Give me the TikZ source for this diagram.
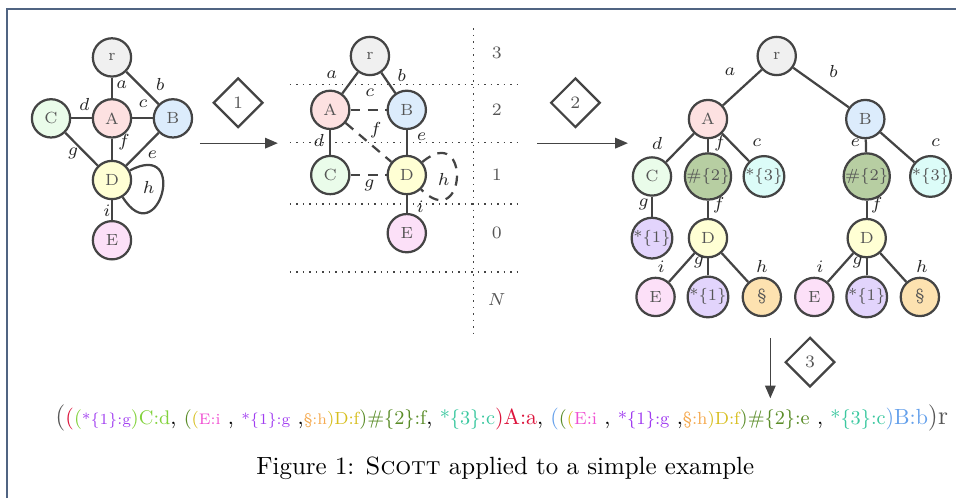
\documentclass[tikz,border=0pt]{standalone}
\usepackage{xcolor}
\usepackage{tikz}
\usetikzlibrary{shapes.geometric, arrows.meta, positioning}
\definecolor{linecolor}{RGB}{68,68,68}
\definecolor{labelcolor}{RGB}{85,85,85}
\definecolor{framecolor}{RGB}{80,100,130}
\definecolor{rootfill}{RGB}{240,240,240}
\definecolor{afill}{RGB}{253,225,225}
\definecolor{bfill}{RGB}{220,236,252}
\definecolor{cfill}{RGB}{234,252,234}
\definecolor{dfill}{RGB}{255,255,212}
\definecolor{efill}{RGB}{252,224,248}
\definecolor{hashfill}{RGB}{183,206,162}
\definecolor{threefill}{RGB}{220,252,248}
\definecolor{onefill}{RGB}{226,212,252}
\definecolor{sectfill}{RGB}{253,226,176}
\definecolor{fgray}{RGB}{85,85,85}
\definecolor{fred}{RGB}{220,20,60}
\definecolor{fgreen}{RGB}{130,210,60}
\definecolor{fpurple}{RGB}{160,60,240}
\definecolor{folive}{RGB}{90,140,40}
\definecolor{fyellow}{RGB}{215,190,30}
\definecolor{fpink}{RGB}{240,80,210}
\definecolor{forange}{RGB}{245,170,80}
\definecolor{fteal}{RGB}{60,200,160}
\definecolor{fblue}{RGB}{100,160,235}

\begin{document}
\begin{tikzpicture}[
    vtx/.style={circle, draw=linecolor, line width=0.9pt, fill=#1, minimum size=0.54cm, inner sep=0pt, font=\fontsize{6.5}{7}\selectfont, text=labelcolor},
    lbl/.style={font=\scriptsize, text=black!85},
    lnk/.style={draw=linecolor, line width=0.9pt},
    dlnk/.style={lnk, dash pattern=on 4pt off 3pt},
    stage/.style={diamond, draw=linecolor, line width=0.9pt, minimum size=0.7cm, inner sep=0pt, font=\scriptsize, text=labelcolor},
    level/.style={draw=linecolor, dotted, line width=0.6pt},
    flow/.style={draw=linecolor, line width=0.5pt, -{Triangle[length=1.8mm, width=1.5mm]}}
]
    \useasboundingbox (0,0) rectangle (13.49,7.03);
    \draw[framecolor, line width=0.7pt] (0.099,0) -- (0.099,6.902) -- (13.49,6.902);

    % Input graph
    \node[vtx=rootfill] (lr) at (1.58,6.22) {r};
    \node[vtx=afill] (lA) at (1.58,5.36) {A};
    \node[vtx=cfill] (lC) at (0.72,5.36) {C};
    \node[vtx=bfill] (lB) at (2.44,5.36) {B};
    \node[vtx=dfill] (lD) at (1.58,4.49) {D};
    \node[vtx=efill] (lE) at (1.58,3.64) {E};

    \draw[lnk] (lr) -- (lA) node[lbl] at (1.72,5.84) {$a$};
    \draw[lnk] (lr) -- (lB) node[lbl] at (2.26,5.84) {$b$};
    \draw[lnk] (lC) -- (lA) node[lbl] at (1.19,5.56) {$d$};
    \draw[lnk] (lA) -- (lB) node[lbl] at (2.02,5.56) {$c$};
    \draw[lnk] (lA) -- (lD) node[lbl] at (1.75,5.03) {$f$};
    \draw[lnk] (lC) -- (lD) node[lbl] at (1.03,4.87) {$g$};
    \draw[lnk] (lB) -- (lD) node[lbl] at (2.15,4.84) {$e$};
    \draw[lnk] (lD) to[out=28, in=-58, distance=0.95cm] (lD) node[lbl] at (2.10,4.38) {$h$};
    \draw[lnk] (lD) -- (lE) node[lbl] at (1.51,4.05) {$i$};

    % Step 1
    \coordinate (s1a) at (2.82,5.01);
    \coordinate (s1b) at (3.92,5.01);
    \draw[flow] (s1a) -- (s1b);
    \node[stage] (st1) at (3.36,5.58) {1};

    % Levels
    \draw[level] (4.09,5.84) -- (7.36,5.84);
    \draw[level] (4.09,5.02) -- (7.36,5.02);
    \draw[level] (4.09,4.15) -- (7.36,4.15);
    \draw[level] (4.09,3.19) -- (7.36,3.19);
    \draw[level] (6.68,6.63) -- (6.68,2.30);
    \node[lbl, text=labelcolor] (n3) at (7.01,6.28) {3};
    \node[lbl, text=labelcolor] (n2) at (7.01,5.48) {2};
    \node[lbl, text=labelcolor] (n1) at (7.01,4.56) {1};
    \node[lbl, text=labelcolor] (n0) at (7.01,3.74) {0};
    \node[lbl, text=labelcolor] (nN) at (7.01,2.80) {$N$};

    % Layered graph
    \node[vtx=rootfill] (mr) at (5.22,6.24) {r};
    \node[vtx=afill] (mA) at (4.66,5.48) {A};
    \node[vtx=bfill] (mB) at (5.74,5.48) {B};
    \node[vtx=cfill] (mC) at (4.66,4.56) {C};
    \node[vtx=dfill] (mD) at (5.74,4.56) {D};
    \node[vtx=efill] (mE) at (5.74,3.74) {E};

    \draw[lnk] (mr) -- (mA) node[lbl] at (4.68,5.97) {$a$};
    \draw[lnk] (mr) -- (mB) node[lbl] at (5.67,5.97) {$b$};
    \draw[dlnk] (mA) -- (mB) node[lbl] at (5.22,5.72) {$c$};
    \draw[lnk] (mA) -- (mC) node[lbl] at (4.50,5.05) {$d$};
    \draw[dlnk] (mA) -- (mD) node[lbl] at (5.30,5.19) {$f$};
    \draw[lnk] (mB) -- (mD) node[lbl] at (5.95,5.10) {$e$};
    \draw[dlnk] (mC) -- (mD) node[lbl] at (5.21,4.41) {$g$};
    \draw[dlnk] (mD) to[out=40, in=-45, distance=0.9cm] (mD) node[lbl] at (6.26,4.50) {$h$};
    \draw[lnk] (mD) -- (mE) node[lbl] at (5.93,4.11) {$i$};

    % Step 2
    \coordinate (s2a) at (7.58,5.01);
    \coordinate (s2b) at (8.86,5.01);
    \draw[flow] (s2a) -- (s2b);
    \node[stage] (st2) at (8.12,5.58) {2};

    % Tree
    \node[vtx=rootfill] (tr) at (10.96,6.24) {r};
    \node[vtx=afill] (tA) at (9.99,5.35) {A};
    \node[vtx=bfill] (tB) at (12.21,5.35) {B};
    \node[vtx=cfill] (tC) at (9.20,4.54) {C};
    \node[vtx=hashfill] (tA2) at (9.99,4.54) {\#\{2\}};
    \node[vtx=threefill] (tA3) at (10.78,4.54) {*\{3\}};
    \node[vtx=hashfill] (tB2) at (12.23,4.54) {\#\{2\}};
    \node[vtx=threefill] (tB3) at (13.13,4.54) {*\{3\}};
    \node[vtx=onefill] (tC1) at (9.20,3.67) {*\{1\}};
    \node[vtx=dfill] (tAD) at (9.99,3.67) {D};
    \node[vtx=dfill] (tBD) at (12.23,3.67) {D};
    \node[vtx=efill] (tADE) at (9.25,2.84) {E};
    \node[vtx=onefill] (tAD1) at (9.99,2.84) {*\{1\}};
    \node[vtx=sectfill] (tADS) at (10.75,2.84) {\S};
    \node[vtx=efill] (tBDE) at (11.49,2.84) {E};
    \node[vtx=onefill] (tBD1) at (12.23,2.84) {*\{1\}};
    \node[vtx=sectfill] (tBDS) at (12.98,2.84) {\S};

    \draw[lnk] (tr) -- (tA) node[lbl] at (10.30,6.02) {$a$};
    \draw[lnk] (tr) -- (tB) node[lbl] at (11.76,6.02) {$b$};
    \draw[lnk] (tA) -- (tC) node[lbl] at (9.27,5.01) {$d$};
    \draw[lnk] (tA) -- (tA2) node[lbl] at (10.16,5.01) {$f$};
    \draw[lnk] (tA) -- (tA3) node[lbl] at (10.68,5.01) {$c$};
    \draw[lnk] (tB) -- (tB2) node[lbl] at (12.07,5.01) {$e$};
    \draw[lnk] (tB) -- (tB3) node[lbl] at (13.20,5.01) {$c$};
    \draw[lnk] (tC) -- (tC1) node[lbl] at (9.08,4.14) {$g$};
    \draw[lnk] (tA2) -- (tAD) node[lbl] at (10.14,4.14) {$f$};
    \draw[lnk] (tB2) -- (tBD) node[lbl] at (12.37,4.14) {$f$};
    \draw[lnk] (tAD) -- (tADE) node[lbl] at (9.33,3.27) {$i$};
    \draw[lnk] (tAD) -- (tAD1) node[lbl] at (9.86,3.33) {$g$};
    \draw[lnk] (tAD) -- (tADS) node[lbl] at (10.75,3.27) {$h$};
    \draw[lnk] (tBD) -- (tBDE) node[lbl] at (11.57,3.27) {$i$};
    \draw[lnk] (tBD) -- (tBD1) node[lbl] at (12.10,3.33) {$g$};
    \draw[lnk] (tBD) -- (tBDS) node[lbl] at (13.01,3.27) {$h$};

    % Step 3
    \coordinate (s3a) at (10.87,2.26);
    \coordinate (s3b) at (10.87,1.41);
    \draw[flow] (s3a) -- (s3b);
    \node[stage] (st3) at (11.43,1.92) {3};

    % Encoding
    \node[scale=0.88] (code) at (7.08,1.13) {%
        {\large\color{fgray}(}%
        {\color{fred}(}%
        {\small\color{fgreen}(}%
        {\scriptsize\color{fpurple}*\{1\}:g}%
        {\small\color{fgreen})C:d}, %
        {\small\color{folive}(}%
        {\footnotesize\color{fyellow}(}%
        {\scriptsize\color{fpink}E:i} , {\scriptsize\color{fpurple}*\{1\}:g} ,{\scriptsize\color{forange}\S:h}%
        {\footnotesize\color{fyellow})D:f}%
        {\small\color{folive})\#\{2\}:f}, %
        {\small\color{fteal}*\{3\}:c}%
        {\color{fred})A:a}, %
        {\color{fblue}(}%
        {\small\color{folive}(}%
        {\footnotesize\color{fyellow}(}%
        {\footnotesize\color{fpink}E:i} , {\footnotesize\color{fpurple}*\{1\}:g} ,{\footnotesize\color{forange}\S:h}%
        {\footnotesize\color{fyellow})D:f}%
        {\small\color{folive})\#\{2\}:e} , %
        {\small\color{fteal}*\{3\}:c}%
        {\color{fblue})B:b}%
        {\large\color{fgray})r}};

    % Caption
    \node (cap) at (7.13,0.42) {Figure 1: \textsc{Scott} applied to a simple example};
\end{tikzpicture}
\end{document}
